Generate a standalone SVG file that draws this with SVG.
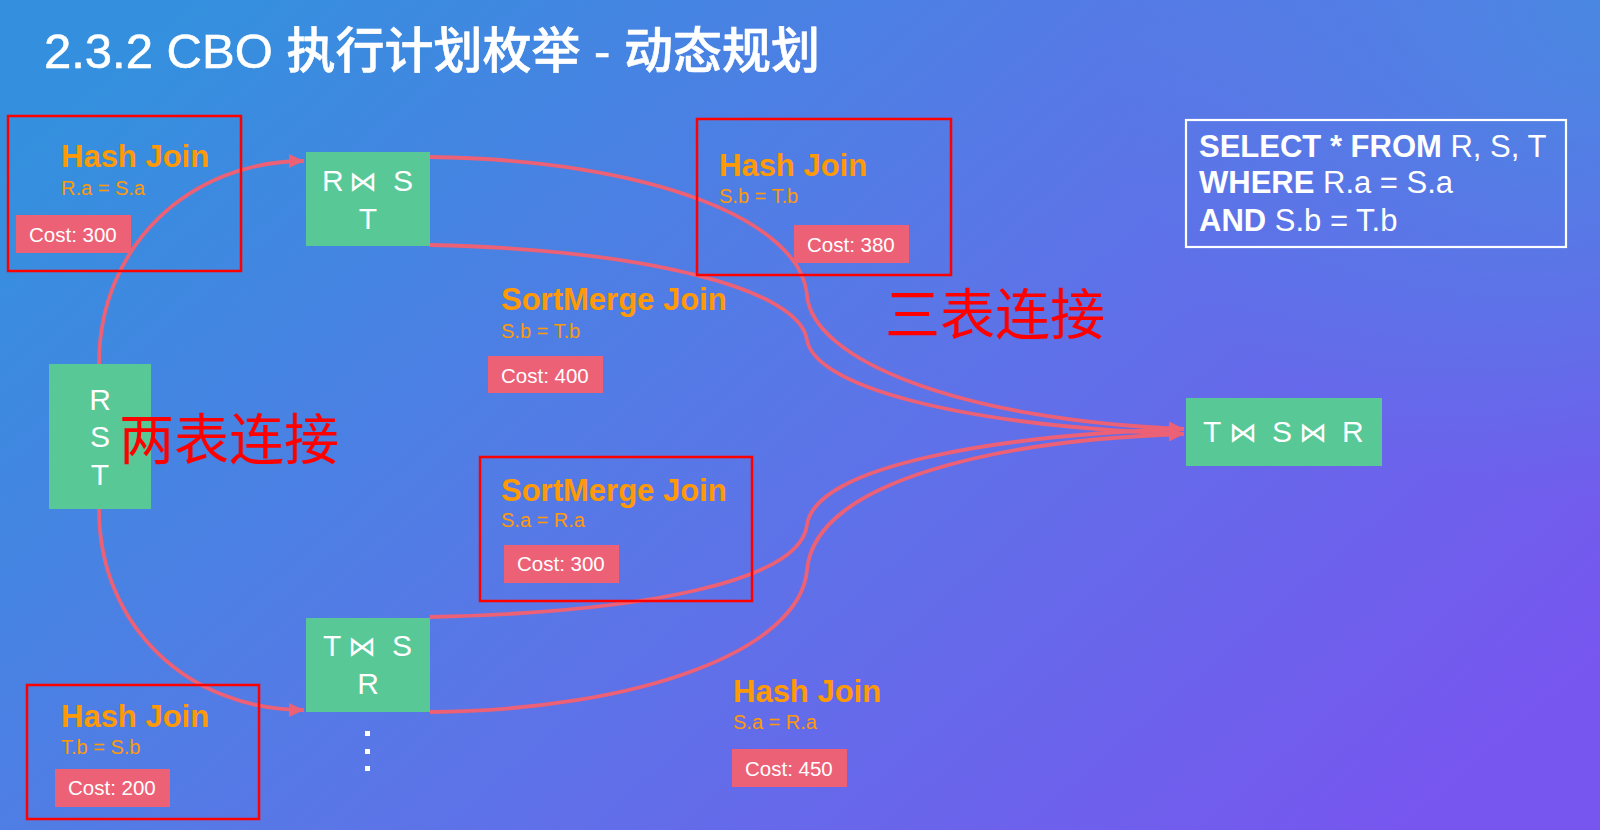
<svg xmlns="http://www.w3.org/2000/svg" width="1600" height="830" viewBox="0 0 1600 830">
<defs>
<linearGradient id="bg" x1="0" y1="0.2" x2="1" y2="0.8">
<stop offset="0" stop-color="#3490de"/>
<stop offset="0.5" stop-color="#5a76e7"/>
<stop offset="1" stop-color="#7756ef"/>
</linearGradient>
<radialGradient id="glow" cx="1600" cy="0" r="500" gradientUnits="userSpaceOnUse">
<stop offset="0" stop-color="#4a88e2" stop-opacity="1"/>
<stop offset="1" stop-color="#4a88e2" stop-opacity="0"/>
</radialGradient>
<marker id="arr" markerUnits="userSpaceOnUse" markerWidth="16" markerHeight="14" refX="15" refY="7" orient="auto">
<path d="M0,0 L15,7 L0,14 Z" fill="#ec6175"/>
</marker>
<style>
.frame{fill:none;stroke:#ff0000;stroke-width:2.5}
.node{fill:#57c896}
.cost{fill:#ec6176}
.nt{font-family:"Liberation Sans","DejaVu Sans",sans-serif;font-size:30px;fill:#ffffff}
.bt{font-family:"DejaVu Sans",sans-serif;font-size:28px;fill:#ffffff}
.jt{font-family:"Liberation Sans",sans-serif;font-size:31px;font-weight:bold;fill:#ff9a05}
.ct{font-family:"Liberation Sans",sans-serif;font-size:20px;fill:#ff9a05}
.kt{font-family:"Liberation Sans",sans-serif;font-size:20.5px;fill:#ffffff}
.red{font-family:"Noto Sans CJK SC",sans-serif;font-size:55px;fill:#ff0000}
.sql{font-family:"Liberation Sans",sans-serif;font-size:31px;fill:#ffffff}
.edge{fill:none;stroke:#ec6175;stroke-width:3.8}
</style>
</defs>
<rect x="0" y="0" width="1600" height="830" fill="url(#bg)"/>
<rect x="0" y="0" width="1600" height="830" fill="url(#glow)"/>

<text x="44" y="68" font-family="'Liberation Sans','Noto Sans CJK SC',sans-serif" font-size="49" font-weight="500" fill="#ffffff" stroke="#ffffff" stroke-width="0.6">2.3.2 CBO 执行计划枚举 - 动态规划</text>

<g id="connectors">
<path class="edge" d="M99,364 C99,245 190,161 304,161" marker-end="url(#arr)"/>
<path class="edge" d="M99,509 C99,628 190,710 304,710" marker-end="url(#arr)"/>
<path class="edge" d="M430,157 C650,160 800,220 807,295 C812,360 960,420 1184,429" marker-end="url(#arr)"/>
<path class="edge" d="M430,245 C650,250 800,290 807,340 C815,385 950,425 1184,434" marker-end="url(#arr)"/>
<path class="edge" d="M430,617 C650,612 800,580 807,525 C815,465 1000,435 1184,429" marker-end="url(#arr)"/>
<path class="edge" d="M430,712 C640,710 800,650 807,570 C815,480 1000,440 1184,434" marker-end="url(#arr)"/>
</g>

<g id="node-rst">
<rect class="node" x="49" y="364" width="102" height="145"/>
<text class="nt" text-anchor="middle"><tspan x="100" y="410">R</tspan><tspan x="100" y="447">S</tspan><tspan x="100" y="485">T</tspan></text>
</g>

<g id="node-rs-t">
<rect class="node" x="306" y="152" width="124" height="94"/>
<text class="nt" y="191"><tspan x="322">R</tspan><tspan class="bt" x="349">⋈</tspan><tspan x="393">S</tspan></text>
<text class="nt" x="368" y="229" text-anchor="middle">T</text>
</g>

<g id="node-ts-r">
<rect class="node" x="306" y="618" width="124" height="94"/>
<text class="nt" y="656"><tspan x="323">T</tspan><tspan class="bt" x="348">⋈</tspan><tspan x="392">S</tspan></text>
<text class="nt" x="368" y="694" text-anchor="middle">R</text>
</g>

<g id="dots" fill="#ffffff">
<rect x="365" y="731" width="5" height="5"/>
<rect x="365" y="749" width="5" height="5"/>
<rect x="365" y="766" width="5" height="5"/>
</g>

<g id="node-final">
<rect class="node" x="1186" y="398" width="196" height="68"/>
<text class="nt" y="442"><tspan x="1203">T</tspan><tspan class="bt" x="1229">⋈</tspan><tspan x="1272">S</tspan><tspan class="bt" x="1299">⋈</tspan><tspan x="1342">R</tspan></text>
</g>

<g id="hj-rs">
<rect class="frame" x="8" y="116" width="233" height="155"/>
<text class="jt" x="61" y="167">Hash Join</text>
<text class="ct" x="61" y="195">R.a = S.a</text>
<rect class="cost" x="16" y="215" width="115" height="38"/>
<text class="kt" x="29" y="242">Cost: 300</text>
</g>

<g id="hj-st">
<rect class="frame" x="697" y="119" width="254" height="156"/>
<text class="jt" x="719" y="176">Hash Join</text>
<text class="ct" x="719" y="203">S.b = T.b</text>
<rect class="cost" x="794" y="225" width="115" height="38"/>
<text class="kt" x="807" y="252">Cost: 380</text>
</g>

<g id="smj-st">
<text class="jt" x="501" y="310">SortMerge Join</text>
<text class="ct" x="501" y="338">S.b = T.b</text>
<rect class="cost" x="488" y="356" width="115" height="37"/>
<text class="kt" x="501" y="383">Cost: 400</text>
</g>

<g id="smj-sr">
<rect class="frame" x="480" y="457" width="272" height="144"/>
<text class="jt" x="501" y="501">SortMerge Join</text>
<text class="ct" x="501" y="527">S.a = R.a</text>
<rect class="cost" x="504" y="545" width="115" height="38"/>
<text class="kt" x="517" y="571">Cost: 300</text>
</g>

<g id="hj-sr">
<text class="jt" x="733" y="702">Hash Join</text>
<text class="ct" x="733" y="729">S.a = R.a</text>
<rect class="cost" x="732" y="749" width="115" height="38"/>
<text class="kt" x="745" y="776">Cost: 450</text>
</g>

<g id="hj-ts">
<rect class="frame" x="27" y="685" width="232" height="134"/>
<text class="jt" x="61" y="727">Hash Join</text>
<text class="ct" x="61" y="754">T.b = S.b</text>
<rect class="cost" x="55" y="769" width="115" height="38"/>
<text class="kt" x="68" y="795">Cost: 200</text>
</g>

<g id="sql">
<rect x="1186" y="120" width="380" height="127" fill="none" stroke="#ffffff" stroke-width="2.2"/>
<text class="sql" x="1199" y="157"><tspan font-weight="bold">SELECT * FROM</tspan> R, S, T</text>
<text class="sql" x="1199" y="193"><tspan font-weight="bold">WHERE</tspan> R.a = S.a</text>
<text class="sql" x="1199" y="231"><tspan font-weight="bold">AND</tspan> S.b = T.b</text>
</g>

<text class="red" x="119" y="459">两表连接</text>
<text class="red" x="885" y="334">三表连接</text>
</svg>
